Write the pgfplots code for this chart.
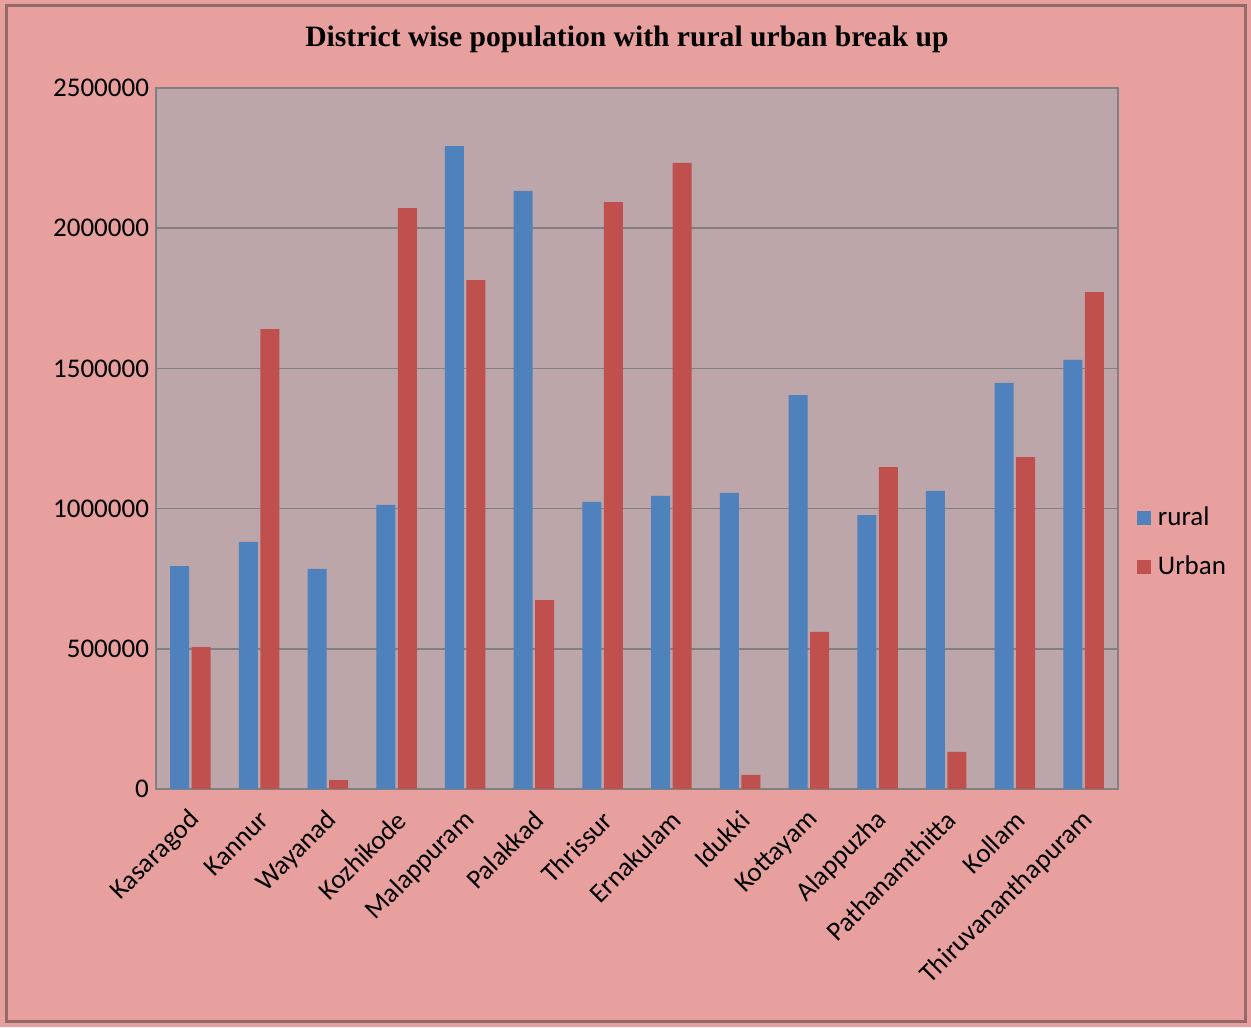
\documentclass[border=0pt]{standalone}
\usepackage{pgfplots}
\pgfplotsset{compat=1.18}
\usepackage{fontspec}
\setmainfont{Carlito}
\newfontfamily\titlefont{Liberation Serif}
\definecolor{bgpink}{RGB}{232,160,158}
\definecolor{plotbg}{RGB}{188,166,170}
\definecolor{rural}{RGB}{79,129,189}
\definecolor{urban}{RGB}{192,80,77}
\definecolor{framec}{RGB}{150,105,105}
\begin{document}
\begin{tikzpicture}
% page background
\fill[bgpink] (0,0) rectangle (625.5pt,513.5pt);
\draw[framec, line width=1.5pt] (3pt,3pt) rectangle (622.5pt,510.5pt);
\node[font=\titlefont\bfseries\fontsize{14.8}{18}\selectfont] at (313.5pt,494pt) {District wise population with rural urban break up};
\begin{axis}[
    at={(78pt,119pt)}, anchor=south west,
    scale only axis,
    width=481pt, height=350.5pt,
    ybar=1.25pt, bar width=9.5pt,
    xmin=-0.5, xmax=13.5,
    ymin=0, ymax=2500000,
    ytick={0,500000,1000000,1500000,2000000,2500000},
    scaled y ticks=false,
    yticklabel style={/pgf/number format/fixed, /pgf/number format/1000 sep=, /pgf/number format/assume math mode=true, font=\fontsize{13.5}{16}\selectfont},
    xtick={0,...,13},
    xticklabels={Kasaragod,Kannur,Wayanad,Kozhikode,Malappuram,Palakkad,Thrissur,Ernakulam,Idukki,Kottayam,Alappuzha,Pathanamthitta,Kollam,Thiruvananthapuram},
    x tick label style={xshift=5pt, yshift=-11pt, rotate=45, anchor=east, font=\fontsize{13.5}{16}\selectfont},
    major tick length=0pt,
    ymajorgrids=true,
    grid style={draw=gray, line width=0.8pt},
    axis background/.style={fill=plotbg},
    axis line style={draw=gray, line width=1pt},
    legend cell align=left,
    legend image code/.code={\fill[#1] (0pt,-3.5pt) rectangle (7pt,3.5pt);},
    legend style={at={(1.013,0.352)}, anchor=west, draw=none, fill=none, font=\fontsize{13.5}{16}\selectfont, row sep=9.5pt,
      /tikz/every odd column/.append style={column sep=1.5pt},
      /tikz/every even column/.append style={column sep=0pt}},
]
\addplot[fill=rural, draw=none] coordinates {
(0,795000)(1,881000)(2,785000)(3,1013000)(4,2293000)(5,2133000)(6,1024000)
(7,1045000)(8,1056000)(9,1405000)(10,977000)(11,1063000)(12,1448000)(13,1530000)
};
\addplot[fill=urban, draw=none] coordinates {
(0,506000)(1,1640000)(2,32000)(3,2072000)(4,1815000)(5,674000)(6,2093000)
(7,2233000)(8,50000)(9,560000)(10,1148000)(11,132000)(12,1184000)(13,1772000)
};
\legend{rural,Urban}
\end{axis}
\end{tikzpicture}
\end{document}
